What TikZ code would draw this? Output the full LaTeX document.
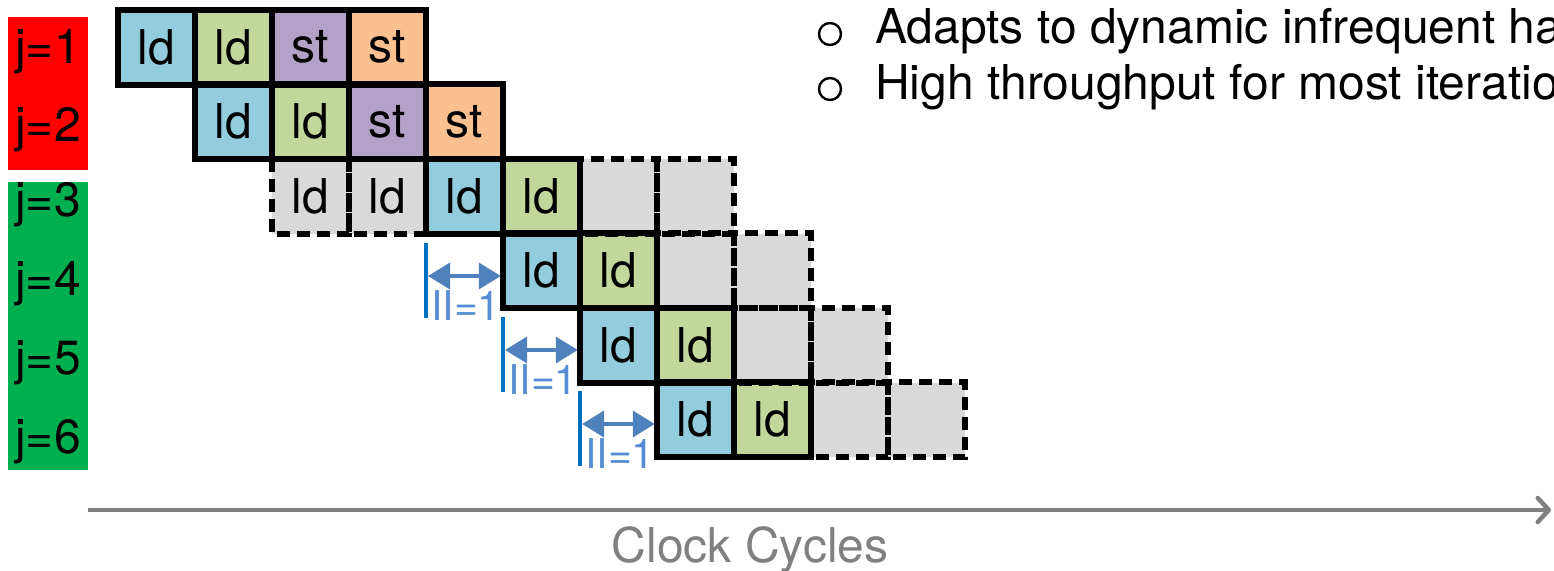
\documentclass[tikz,border=0pt]{standalone}
\usepackage{fontspec}
\setmainfont{TeX Gyre Heros}
\usetikzlibrary{arrows.meta}
\definecolor{cblue}{HTML}{93CDDD}
\definecolor{cgreen}{HTML}{C3D69B}
\definecolor{cpurple}{HTML}{B3A2C7}
\definecolor{corange}{HTML}{FAC090}
\definecolor{cgray}{HTML}{D9D9D9}
\definecolor{cred}{HTML}{FF0000}
\definecolor{cgrn}{HTML}{00B050}
\definecolor{vline}{HTML}{0070C0}
\definecolor{iiarr}{HTML}{4F81BD}
\definecolor{iitxt}{HTML}{558ED5}
\definecolor{axisgray}{HTML}{808080}
\tikzset{
  cellbox/.style={minimum width=77pt, minimum height=74.5pt, inner sep=0pt, font=\fontsize{48}{52}\selectfont},
  solidb/.style={draw=black, line width=6pt, line join=miter},
  dashb/.style={draw=black, line width=6pt, dash pattern=on 13pt off 7pt},
  jlabel/.style={font=\fontsize{48}{52}\selectfont, inner sep=0pt},
  iiline/.style={draw=vline, line width=4pt},
  iiarrow/.style={draw=iiarr, line width=3.5pt, {Triangle[length=22pt,width=26pt]}-{Triangle[length=22pt,width=26pt]}},
  iitext/.style={text=iitxt, font=\fontsize{41}{44}\selectfont, inner sep=0pt, anchor=north west},
  bullettext/.style={font=\fontsize{48}{52}\selectfont, inner sep=0pt, anchor=base west},
  bulletdot/.style={circle, draw=black, line width=2.4pt, minimum size=22pt, inner sep=0pt}
}
\begin{document}
\begin{tikzpicture}[x=1pt, y=-1pt]
\path[use as bounding box, clip] (0,0) rectangle (1554,570);
\fill[white] (0,0) rectangle (1554,570);

% left labels
\node[fill=cred, minimum width=80pt, minimum height=153pt, inner sep=0pt] (redbox) at (48,93) {};
\node[fill=cgrn, minimum width=80pt, minimum height=288pt, inner sep=0pt] (grnbox) at (48,326) {};
\node[jlabel] (j1) at (48,52) {j=1};
\node[jlabel] (j2) at (48,130) {j=2};
\node[jlabel] (j3) at (48,205) {j=3};
\node[jlabel] (j4) at (48,284) {j=4};
\node[jlabel] (j5) at (48,363) {j=5};
\node[jlabel] (j6) at (48,442) {j=6};

% cells: column c center = 156.5 + 77c ; row r center = 47.25 + 74.5(r-1)
% row 1
\node[cellbox, fill=cblue]   (a0) at (156.5,47.25) {ld};
\node[cellbox, fill=cgreen]  (a1) at (233.5,47.25) {ld};
\node[cellbox, fill=cpurple] (a2) at (310.5,47.25) {st};
\node[cellbox, fill=corange] (a3) at (387.5,47.25) {st};
% row 2
\node[cellbox, fill=cblue]   (b1) at (233.5,121.75) {ld};
\node[cellbox, fill=cgreen]  (b2) at (310.5,121.75) {ld};
\node[cellbox, fill=cpurple] (b3) at (387.5,121.75) {st};
\node[cellbox, fill=corange] (b4) at (464.5,121.75) {st};
% row 3
\node[cellbox, fill=cgray]   (c2) at (310.5,196.25) {ld};
\node[cellbox, fill=cgray]   (c3) at (387.5,196.25) {ld};
\node[cellbox, fill=cblue]   (c4) at (464.5,196.25) {ld};
\node[cellbox, fill=cgreen]  (c5) at (541.5,196.25) {ld};
\node[cellbox, fill=cgray]   (c6) at (618.5,196.25) {};
\node[cellbox, fill=cgray]   (c7) at (695.5,196.25) {};
% row 4
\node[cellbox, fill=cblue]   (d5) at (541.5,270.75) {ld};
\node[cellbox, fill=cgreen]  (d6) at (618.5,270.75) {ld};
\node[cellbox, fill=cgray]   (d7) at (695.5,270.75) {};
\node[cellbox, fill=cgray]   (d8) at (772.5,270.75) {};
% row 5
\node[cellbox, fill=cblue]   (e6) at (618.5,345.25) {ld};
\node[cellbox, fill=cgreen]  (e7) at (695.5,345.25) {ld};
\node[cellbox, fill=cgray]   (e8) at (772.5,345.25) {};
\node[cellbox, fill=cgray]   (e9) at (849.5,345.25) {};
% row 6
\node[cellbox, fill=cblue]   (f7) at (695.5,419.75) {ld};
\node[cellbox, fill=cgreen]  (f8) at (772.5,419.75) {ld};
\node[cellbox, fill=cgray]   (f9) at (849.5,419.75) {};
\node[cellbox, fill=cgray]   (f10) at (926.5,419.75) {};

% dashed borders
\foreach \n in {c2,c3,c6,c7,d7,d8,e8,e9,f9,f10}
  \draw[dashb] (\n.north west) rectangle (\n.south east);
% solid borders
\foreach \n in {a0,a1,a2,a3,b1,b2,b3,b4,c4,c5,d5,d6,e6,e7,f7,f8}
  \draw[solidb] (\n.north west) rectangle (\n.south east);

% II=1 markers
\coordinate (v1t) at (426,243);
\coordinate (v1b) at (426,318);
\coordinate (h1) at (428,276);
\draw[iiline] (v1t) -- (v1b);
\draw[iiarrow] (h1) -- ([xshift=-2pt]d5.west |- h1);
\node[iitext] (ii1) at (431,290) {II=1};

\coordinate (v2t) at (503,317);
\coordinate (v2b) at (503,392);
\coordinate (h2) at (505,350);
\draw[iiline] (v2t) -- (v2b);
\draw[iiarrow] (h2) -- ([xshift=-2pt]e6.west |- h2);
\node[iitext] (ii2) at (508,364) {II=1};

\coordinate (v3t) at (580,391);
\coordinate (v3b) at (580,466);
\coordinate (h3) at (582,424);
\draw[iiline] (v3t) -- (v3b);
\draw[iiarrow] (h3) -- ([xshift=-2pt]f7.west |- h3);
\node[iitext] (ii3) at (585,438) {II=1};

% axis
\coordinate (axs) at (88,510);
\coordinate (axe) at (1551,510);
\draw[draw=axisgray, line width=4.5pt, -{Straight Barb[length=11pt,width=24pt,round]}] (axs) -- (axe);
\node[text=axisgray, font=\fontsize{48}{52}\selectfont, inner sep=0pt, anchor=base] (clk) at (750,562) {Clock Cycles};

% bullets
\node[bulletdot] (bd1) at (830,34) {};
\node[bullettext] (bt1) at (875,43) {Adapts to dynamic infrequent ha};
\node[bulletdot] (bd2) at (830,89) {};
\node[bullettext] (bt2) at (875,99) {High throughput for most iteratio};
\end{tikzpicture}
\end{document}
